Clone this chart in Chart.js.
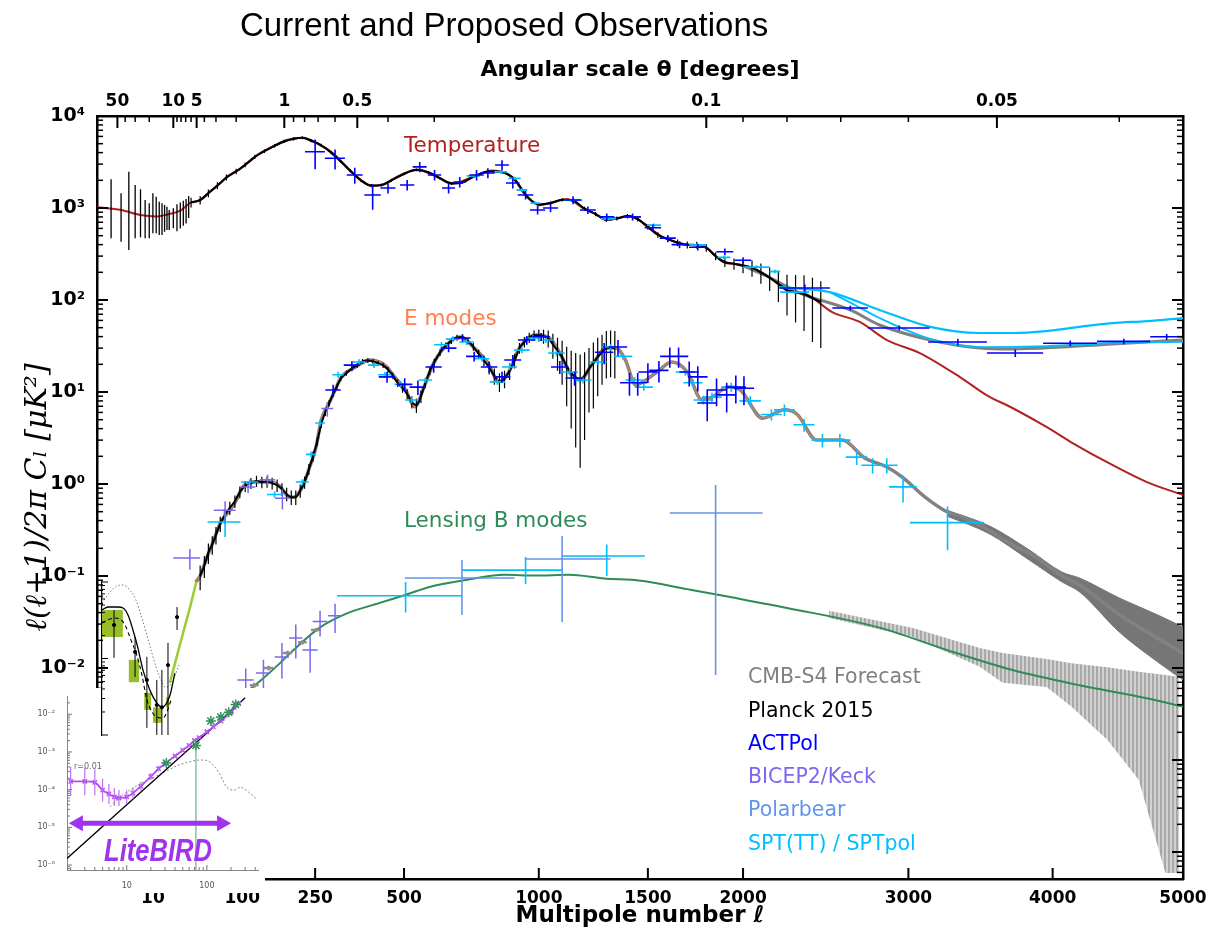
<!DOCTYPE html>
<html>
<head>
<meta charset="utf-8">
<script src="https://cdn.jsdelivr.net/npm/chart.js@4.4.0/dist/chart.umd.min.js"></script>
<style>
  body { margin: 0; width: 1230px; height: 934px; overflow: hidden; position: relative; background: #fff; font-family: "DejaVu Sans", sans-serif; }
  canvas { position: absolute; }
  #main { left: 0; top: 0; }
  #liteBird { left: 0; top: 688px; background: #fff; }
  #lowEE { left: 95px; top: 575px; }
  .txt { position: absolute; white-space: nowrap; line-height: 1; }
  .lab { font-size: 21.5px; left: 404px; }
  .leg { font-size: 20.5px; left: 748px; }
</style>
</head>
<body>
<canvas id="main" width="1230" height="934"></canvas>
<canvas id="liteBird" width="265" height="205"></canvas>
<canvas id="lowEE" width="95" height="165"></canvas>

<div class="txt" style="left:240px;top:6px;font:33px 'Liberation Sans',sans-serif;">Current and Proposed Observations</div>
<div class="txt lab" style="top:134px;color:#b22222;">Temperature</div>
<div class="txt lab" style="top:307px;color:#ff7f50;">E modes</div>
<div class="txt lab" style="top:509px;color:#2e8b57;">Lensing B modes</div>

<div class="txt leg" style="top:666px;color:#808080;">CMB-S4 Forecast</div>
<div class="txt leg" style="top:700px;color:#000;">Planck 2015</div>
<div class="txt leg" style="top:733px;color:#0000ff;">ACTPol</div>
<div class="txt leg" style="top:766px;color:#7b68ee;">BICEP2/Keck</div>
<div class="txt leg" style="top:799px;color:#6495ed;">Polarbear</div>
<div class="txt leg" style="top:833px;color:#00bfff;">SPT(TT) / SPTpol</div>

<div class="txt" style="left:74px;top:763px;font-size:8px;color:#666;">r=0.01</div>
<div class="txt" style="left:104px;top:832px;font:italic bold 32px 'Liberation Sans',sans-serif;color:#a033ee;transform:scaleX(0.8);transform-origin:left top;">LiteBIRD</div>

<script>
// ---------------- data ----------------

// TT theory
const ttEll = [2, 4, 7, 11, 16, 22, 29, 40, 52, 66, 80, 96, 113, 131, 151, 186, 221, 260, 294, 348, 400, 434, 480, 542, 600, 665, 740, 815, 893, 950, 1004, 1060, 1121, 1193, 1250, 1302, 1360, 1410, 1480, 1573, 1650, 1713, 1781, 1890, 1970, 2055, 2150, 2247, 2365, 2519, 2689, 2861, 3075, 3342, 3527, 3710, 3955, 4147, 4447, 4714, 5000];
const ttVal = [1020, 950, 840, 810, 860, 935, 1130, 1220, 1500, 1870, 2290, 2650, 3230, 3935, 4490, 5480, 5800, 4900, 3950, 2400, 1750, 1780, 2200, 2600, 2250, 1850, 2200, 2560, 2120, 1320, 1080, 1150, 1250, 1000, 860, 741, 780, 818, 680, 484, 420, 396, 388, 259, 245, 223, 175, 128, 115, 74, 57.7, 36.7, 26.5, 14.6, 9.27, 6.7, 4.17, 2.79, 1.61, 1.05, 0.76];

// EE theory
const eeEll = [35, 40, 47, 57, 66, 80, 90, 101, 120, 150, 172, 187, 200, 220, 237, 252, 265, 285, 300, 315, 355, 396, 440, 470, 505, 535, 565, 598, 650, 690, 740, 795, 838, 875, 922, 990, 1045, 1090, 1135, 1178, 1238, 1300, 1345, 1390, 1440, 1545, 1620, 1700, 1777, 1830, 1920, 1985, 2110, 2235, 2310, 2425, 2580, 2720, 2860, 2960, 3110, 3255, 3360, 3520, 3730, 3850, 4070, 4200, 4500, 4800, 5000];
const eeVal = [0.086, 0.1, 0.15, 0.246, 0.377, 0.52, 0.66, 0.93, 1.05, 1.05, 0.93, 0.74, 0.72, 0.93, 1.53, 2.5, 4.97, 7.6, 10.5, 14.2, 18.7, 22.3, 19.6, 14.6, 10.5, 6.9, 11.3, 20.6, 34.1, 39.7, 30.8, 20.6, 12.9, 16.1, 30.8, 41.7, 38.6, 26.5, 16.1, 13.5, 20.6, 30, 30, 22.3, 12, 16.5, 21.2, 16.5, 8.2, 8.8, 11.3, 10.5, 5.2, 6.4, 5.7, 3.0, 3.0, 1.92, 1.53, 1.19, 0.72, 0.5, 0.44, 0.33, 0.21, 0.17, 0.1, 0.08, 0.038, 0.021, 0.0145];
const eeLowEll = [16.3, 21.7, 29, 35.6];
const eeLowVal = [0.0069, 0.0178, 0.045, 0.086];

// lensing BB theory
const bbEll = [100, 135, 171, 200, 262, 330, 425, 508, 590, 698, 860, 985, 1130, 1290, 1465, 1700, 1930, 2250, 2814, 3255, 3710, 4198, 4714, 5000];
const bbVal = [0.005, 0.0075, 0.0113, 0.0157, 0.0276, 0.039, 0.051, 0.063, 0.077, 0.089, 0.103, 0.101, 0.103, 0.094, 0.089, 0.072, 0.059, 0.045, 0.0275, 0.0157, 0.0095, 0.0065, 0.0047, 0.0038];

// CMB-S4 forecasts
const s4TTEll = [2000, 2150, 2325, 2630, 2814, 3145, 3480, 3710, 4070, 4447, 5000];
const s4TTVal = [235, 175, 119, 78, 53.5, 36.7, 30, 29.3, 30.8, 33.3, 36.7];
const s4EEBandEll = [3255, 3550, 3830, 4070, 4200, 4500, 4800, 5000];
const s4EEBandHi = [0.52, 0.349, 0.192, 0.11, 0.095, 0.0577, 0.0377, 0.0279];
const s4EEBandLo = [0.449, 0.286, 0.149, 0.086, 0.067, 0.0246, 0.0116, 0.0074];
const s4BBBandEll = [2500, 3030, 3480, 3640, 3955, 4140, 4410, 4650, 4860, 4970];
const s4BBBandHi = [0.042, 0.0272, 0.0165, 0.0146, 0.0125, 0.0113, 0.0102, 0.0091, 0.0084, 0.008];
const s4BBBandLo = [0.035, 0.0217, 0.0103, 0.0069, 0.0062, 0.0038, 0.00165, 0.00061, 0.000059, 0.000059];
const s4BBLowEll = [121, 148, 187, 220, 252];
const s4BBLowVal = [0.0065, 0.01, 0.0146, 0.019, 0.0259];
const s4BBLowErr = [0.0004, 0.0006, 0.0008, 0.001, 0.0013];
const s4BBLowHalf = [8, 9, 10, 10, 12];

// Planck 2015: [l, D, lo, hi] at low l, [l, D, sigma] binned
const planckLowTT = [[3, 980, 469, 2050], [4, 800, 431, 1446], [5, 940, 349, 2483], [6, 900, 469, 1778], [7, 780, 480, 1600], [8, 720, 469, 1222], [9, 700, 469, 1125], [10, 800, 531, 1446], [11, 760, 531, 1327], [12, 760, 509, 1170], [13, 740, 509, 1125], [14, 780, 552, 1079], [15, 800, 577, 1033], [16, 780, 577, 951], [18, 800, 601, 993], [20, 830, 560, 1100], [22, 880, 600, 1150], [24, 900, 640, 1200], [26, 950, 680, 1250], [28, 1050, 780, 1350]];
const planckTT = [[30, 1150, 140], [40, 1220, 130], [50, 1450, 140], [62, 1750, 150], [75, 2150, 160], [90, 2500, 170], [105, 2950, 180], [122, 3600, 190], [140, 4150, 200], [160, 4750, 210], [180, 5300, 220], [200, 5650, 220], [220, 5800, 220], [240, 5400, 200], [265, 4800, 180], [290, 4000, 150], [315, 3200, 120], [340, 2550, 100], [370, 2000, 80], [400, 1750, 70], [430, 1780, 70], [460, 2000, 75], [500, 2350, 80], [540, 2600, 85], [580, 2450, 80], [620, 2100, 75], [660, 1850, 70], [700, 1900, 70], [750, 2250, 80], [800, 2500, 85], [850, 2450, 85], [900, 2050, 75], [950, 1350, 55], [1000, 1090, 45], [1050, 1130, 45], [1100, 1230, 50], [1150, 1200, 50], [1200, 980, 50], [1250, 860, 45], [1300, 745, 40], [1350, 770, 40], [1400, 815, 45], [1450, 760, 45], [1500, 620, 40], [1550, 510, 35], [1600, 460, 35], [1650, 420, 35], [1700, 398, 35], [1750, 395, 35], [1800, 370, 35], [1850, 300, 30], [1900, 258, 30], [1950, 248, 35], [2000, 235, 40], [2050, 224, 45], [2100, 200, 50], [2150, 175, 50], [2200, 150, 55], [2250, 128, 60], [2300, 122, 65], [2350, 116, 70], [2400, 105, 70], [2450, 95, 65]];
const planckEE = [[40, 0.1, 0.03], [45, 0.13, 0.035], [50, 0.18, 0.045], [55, 0.22, 0.05], [60, 0.28, 0.06], [66, 0.37, 0.07], [72, 0.45, 0.08], [80, 0.55, 0.09], [88, 0.65, 0.1], [96, 0.82, 0.12], [105, 0.95, 0.13], [115, 1.02, 0.14], [125, 1.08, 0.15], [135, 1.05, 0.15], [145, 1.06, 0.15], [155, 1.02, 0.15], [165, 0.97, 0.15], [175, 0.88, 0.14], [185, 0.78, 0.13], [195, 0.72, 0.13], [205, 0.72, 0.13], [215, 0.85, 0.14], [225, 1.05, 0.16], [235, 1.45, 0.2], [245, 2.0, 0.25], [255, 2.9, 0.3], [265, 4.5, 0.4], [275, 6.0, 0.5], [285, 7.6, 0.6], [295, 9.5, 0.7], [305, 11.5, 0.8], [315, 14, 0.9], [330, 16, 1], [345, 18, 1.2], [360, 19.5, 1.2], [375, 21.5, 1.3], [390, 22, 1.3], [405, 21.5, 1.3], [420, 20.5, 1.3], [435, 19.5, 1.3], [450, 17.5, 1.3], [465, 15, 1.2], [480, 12.5, 1.2], [495, 11, 1.2], [510, 9.5, 1.2], [525, 7.8, 1.2], [540, 7.2, 1.3], [555, 9, 1.4], [570, 12.5, 1.5], [585, 17, 1.8], [600, 21, 2], [620, 27, 2.3], [640, 32, 2.5], [660, 36, 2.8], [680, 39, 3], [700, 39.5, 3], [720, 36, 3], [740, 31, 3], [760, 26, 3], [780, 22, 3], [800, 18.5, 3], [820, 15, 3], [840, 13, 3], [860, 14, 3], [880, 17, 3.5], [900, 22, 4], [920, 30, 4], [940, 35, 4.5], [960, 39, 5], [980, 41.5, 5], [1000, 41.5, 6], [1020, 40.5, 7], [1040, 38.5, 8], [1060, 33, 10], [1080, 28, 11], [1100, 24, 12], [1120, 19, 12], [1140, 16, 12], [1160, 14.5, 12], [1180, 13.5, 12], [1200, 15, 12], [1220, 18, 12], [1240, 20.6, 14], [1260, 24, 15], [1280, 27, 15], [1300, 30, 16], [1320, 30.5, 16], [1340, 30, 16]];

// ACTPol
const actTTEll = [250, 300, 353, 404, 450, 510, 551, 601, 650, 690, 752, 795, 850, 893, 945, 995, 1050, 1148, 1215, 1302, 1425, 1525, 1600, 1660, 1755, 1900, 2000, 2355, 2630, 2940, 3330, 3730, 4130, 4535, 4870];
const actTTVal = [4090, 3470, 2285, 1385, 1650, 1780, 2800, 2285, 1650, 1920, 2285, 2400, 2930, 1870, 1385, 950, 1000, 1220, 950, 800, 800, 610, 470, 400, 375, 335, 270, 135, 81.8, 49.7, 34.9, 26.5, 33.9, 35.5, 39.8];
const actTTErr = [1450, 850, 450, 430, 210, 230, 360, 300, 210, 250, 300, 300, 380, 240, 150, 100, 100, 120, 90, 70, 70, 50, 40, 35, 30, 28, 22, 12, 5, 3, 3, 2.5, 2.5, 2.5, 3];
const actTTHalf = [24, 26, 22, 24, 23, 23, 23, 23, 23, 23, 27, 27, 27, 27, 32, 32, 32, 36, 36, 36, 41, 41, 41, 41, 46, 46, 46, 150, 110, 200, 200, 200, 200, 205, 130];
const actEEEll = [295, 345, 447, 502, 545, 598, 650, 700, 743, 800, 850, 893, 950, 1010, 1090, 1155, 1290, 1355, 1410, 1450, 1500, 1555, 1610, 1655, 1710, 1755, 1805, 1855, 1910, 1960, 2005];
const actEEVal = [10.5, 19.6, 14.6, 12.1, 11.3, 18.7, 30, 38.6, 24.4, 18.7, 14.6, 22.3, 36.7, 39.8, 18.7, 14.2, 27, 30.8, 12.6, 12.6, 16.5, 17.2, 24.4, 24.4, 16.5, 14.6, 7.6, 10.5, 9.3, 11.3, 11];
const actEEErr = [1.5, 2, 2, 2, 2, 2.5, 3, 3.5, 3, 2.5, 2, 3, 4, 4, 3, 2.5, 7, 6, 3.5, 3.5, 4, 4.5, 6, 6, 5, 4.5, 2.8, 3.5, 3.3, 3.8, 3.8];
const actEEHalf = [20, 22, 25, 25, 27, 28, 28, 30, 30, 32, 33, 34, 36, 37, 38, 40, 43, 44, 45, 46, 47, 48, 49, 50, 51, 52, 53, 54, 55, 56, 57];

// SPT (TT bins, TT high-l with foregrounds, SPTpol EE and BB)
const sptTTEll = [740, 845, 900, 930, 985, 1150, 1310, 1530, 1755, 1895, 2075, 2180, 2295];
const sptTTVal = [2230, 2470, 2100, 1570, 1130, 1220, 760, 653, 396, 290, 228, 204, 122];
const sptTTErr = [90, 100, 85, 65, 45, 50, 30, 26, 16, 12, 10, 9, 6];
const sptTTHalf = [25, 25, 25, 22, 20, 40, 35, 35, 45, 35, 75, 30, 85];
const sptTTHighEll = [2208, 2503, 2814, 3145, 3480, 3710, 3955, 4198, 4447, 4714, 5000];
const sptTTHighVal = [138, 122, 78, 51, 43.8, 43.8, 46, 51, 56, 59, 63.7];
const sptTTLowEll = [2503, 2650, 2814, 3145, 3480, 3955, 4447, 5000];
const sptTTLowVal = [122, 90, 63.7, 37.7, 30.8, 31.6, 34.1, 35];
const sptEEEll = [73, 113, 160, 220, 240, 262, 308, 365, 408, 440, 490, 525, 570, 625, 665, 715, 773, 832, 880, 930, 975, 1030, 1075, 1133, 1193, 1262, 1320, 1380, 1435, 1480, 1690, 1730, 1785, 1830, 1935, 2040, 2160, 2235, 2350, 2460, 2566, 2670, 2770, 2860, 2965, 3260];
const sptEEVal = [0.386, 1.05, 0.77, 1.05, 2.1, 4.6, 15.4, 21.2, 19.6, 15.4, 12.1, 8.2, 13.5, 32.6, 37.6, 35, 23, 12.9, 18.7, 28.5, 38.6, 36.7, 26.5, 16.5, 13.5, 21.2, 30.8, 24.4, 13.5, 11.3, 16.5, 12.6, 8.2, 8.8, 11.3, 8.0, 5.7, 6.4, 4.4, 3.0, 3.0, 1.96, 1.6, 1.6, 0.93, 0.38];
const sptEEErr = [0.12, 0.08, 0.06, 0.08, 0.15, 0.35, 1.2, 1.5, 1.4, 1.1, 0.9, 0.6, 1.0, 2.4, 2.8, 2.6, 1.7, 1.0, 1.4, 2.1, 2.8, 2.7, 2.0, 1.3, 1.1, 1.7, 2.5, 2.0, 1.1, 1.0, 1.5, 1.2, 0.9, 1.0, 1.3, 1.0, 0.8, 0.9, 0.7, 0.5, 0.5, 0.35, 0.3, 0.3, 0.3, 0.19];
const sptEEHalf = [24, 15, 15, 15, 12, 12, 15, 18, 18, 20, 20, 22, 22, 25, 25, 27, 28, 30, 30, 32, 33, 35, 36, 37, 38, 40, 42, 43, 44, 45, 50, 50, 52, 53, 55, 60, 60, 60, 62, 65, 65, 68, 70, 70, 90, 250];
const sptBBEll = [505, 945, 1302];
const sptBBVal = [0.061, 0.116, 0.165];
const sptBBLo = [0.04, 0.082, 0.1];
const sptBBHi = [0.086, 0.161, 0.22];
const sptBBEllLo = [305, 698, 1100];
const sptBBEllHi = [698, 1100, 1485];

// BICEP2/Keck
const bkEEEll = [29, 73, 110, 146, 176, 280];
const bkEEVal = [0.157, 0.52, 0.93, 1.11, 0.70, 6.6];
const bkEEErr = [0.04, 0.13, 0.13, 0.15, 0.17, 1.2];
const bkEEHalf = [11, 16, 13, 15, 15, 15];
const bkBBEll = [106, 138, 175, 205, 238, 262, 300];
const bkBBVal = [0.0074, 0.0088, 0.0132, 0.0212, 0.0157, 0.032, 0.037];
const bkBBErr = [0.0025, 0.0035, 0.0055, 0.0085, 0.0068, 0.01, 0.013];
const bkBBHalf = [14, 14, 15, 15, 18, 18, 18];

// Polarbear
const pbEll = [698, 1100, 1850];
const pbVal = [0.095, 0.153, 0.484];
const pbLo = [0.0377, 0.0316, 0.0084];
const pbHi = [0.149, 0.272, 0.975];
const pbEllLo = [502, 945, 1610];
const pbEllHi = [900, 1320, 2110];

// low-l EE inset (reionization bump)
const reionEll = [2, 2.47, 2.96, 3.54, 4.23, 5.05, 6.03, 7.2, 8.6, 11.0, 14.1, 16.9, 19.6, 22.6, 26.8];
const reionSolid = [0.043, 0.0471, 0.0471, 0.0471, 0.0457, 0.037, 0.0236, 0.0137, 0.0071, 0.00387, 0.00262, 0.00232, 0.00254, 0.00333, 0.00646];
const reionDashEll = [2, 2.66, 3.15, 3.8, 4.54, 5.6, 6.9, 8.3, 9.9, 11.9, 14.1, 17.6, 20.2, 23.4];
const reionDashVal = [0.0291, 0.0328, 0.0338, 0.0328, 0.0274, 0.0175, 0.0111, 0.00608, 0.00287, 0.002, 0.00172, 0.00167, 0.002, 0.00287];
const reionDotEll = [2, 2.66, 3.41, 4.22, 5.4, 6.7, 8.0, 9.6, 11.5, 13.7, 16.4, 18.9, 21.8, 26.0, 31.1];
const reionDotVal = [0.053, 0.074, 0.0887, 0.0914, 0.0786, 0.0582, 0.0371, 0.0222, 0.0129, 0.00774, 0.00523, 0.00424, 0.00436, 0.00556, 0.00822];
const reionBoxEllLo = [2, 5.2, 9.0, 12.3, 19.6];
const reionBoxEllHi = [4.2, 7.5, 11.5, 16.9, 21.7];
const reionBoxLo = [0.0191, 0.0049, 0.00213, 0.00144, 0.0023];
const reionBoxHi = [0.043, 0.0096, 0.00355, 0.0023, 0.0031];
const reionPtEll = [3.07, 6.5, 9.9, 14.1, 16.9, 21, 29];
const reionPtVal = [0.0274, 0.0122, 0.00523, 0.00247, 0.0023, 0.0082, 0.0348];
const reionPtLo = [0.0102, 0.00573, 0.00124, 0.001, 0.001, 0.001, 0.0236];
const reionPtHi = [0.043, 0.0191, 0.0105, 0.00523, 0.0071, 0.016, 0.047];

// LiteBIRD inset (BB)
const lbEll = [2, 3, 4, 5, 6, 7, 8, 10, 12, 15, 20, 25, 30, 40, 50, 60, 70, 80, 100, 120, 150, 200, 250];
const lbVal = [1.66e-4, 1.66e-4, 1.56e-4, 9.7e-5, 7.7e-5, 6.4e-5, 6.0e-5, 6.4e-5, 8.1e-5, 1.23e-4, 2.23e-4, 3.59e-4, 4.83e-4, 7.8e-4, 1.11e-3, 1.49e-3, 2.01e-3, 2.4e-3, 3.43e-3, 4.62e-3, 6.6e-3, 1.13e-2, 1.92e-2];
const lbErrDex = [0.39, 0.37, 0.35, 0.3, 0.27, 0.24, 0.21, 0.18, 0.15, 0.12, 0.09, 0.07, 0.05, 0.04, 0.03, 0.03, 0.03, 0.03, 0.02, 0.02, 0.02, 0.02, 0.02];
const lensEll = [1.8, 10, 100, 300];
const lensVal = [1.5e-6, 4.0e-5, 3.2e-3, 0.0275];
const primEll = [6.17, 8.2, 10.9, 14.5, 19.2, 25.5, 33.9, 45.1, 60, 79.5, 91.8, 112, 141, 177, 217, 263, 330, 415];
const primVal = [3.53e-5, 6.4e-5, 9.7e-5, 1.39e-4, 1.87e-4, 2.51e-4, 3.38e-4, 4.55e-4, 5.43e-4, 6.1e-4, 6.1e-4, 5.13e-4, 2.83e-4, 1.16e-4, 9.7e-5, 1.16e-4, 8.6e-5, 5.7e-5];
const starEll = [31.2, 73, 112, 149, 187, 228];
const starVal = [5.1e-4, 1.49e-3, 6.6e-3, 8.4e-3, 1.13e-2, 1.81e-2];
const starLo = [4.0e-4, 7.4e-7, 5.0e-3, 6.5e-3, 8.8e-3, 1.45e-2];
const starHi = [6.4e-4, 1.9e-3, 8.6e-3, 1.1e-2, 1.45e-2, 2.3e-2];
const lbArrowEll = [1.9, 200];
const lbArrowLevel = 1.29e-5;

// axis ticks
const bottomTicks = [10, 100, 250, 500, 1000, 1500, 2000, 3000, 4000, 5000];
const thetaMajor = [50, 10, 5, 1, 0.5, 0.1, 0.05];
const thetaMinor = [40, 30, 20, 9, 8, 7, 6, 4, 3, 2, 0.9, 0.8, 0.7, 0.6, 0.4, 0.3, 0.2, 0.09, 0.08, 0.07, 0.06, 0.04];

// ---------------- scales ----------------

// multipole axis: logarithmic below l = 30, l^0.6 above
const L_BREAK = 30, L_POW = 0.6, LOG_UNITS = 12.74;
const lpos = l => l >= L_BREAK ? Math.pow(l, L_POW) : Math.pow(L_BREAK, L_POW) + LOG_UNITS * Math.log10(l / L_BREAK);
const X_MIN = lpos(2), X_MAX = lpos(5000);
const Y_MIN = 5.09e-5, Y_MAX = 1e4;

const SUP = { '-': '\u207B', '0': '\u2070', '1': '\u00B9', '2': '\u00B2', '3': '\u00B3', '4': '\u2074', '5': '\u2075', '6': '\u2076', '7': '\u2077', '8': '\u2078', '9': '\u2079' };
const powLabel = e => '10' + String(e).split('').map(c => SUP[c]).join('');

function logTicks(min, max, plain) {
  const out = [];
  for (let e = Math.floor(Math.log10(min)); e <= Math.ceil(Math.log10(max)); e++) {
    for (let m = 1; m <= 9; m++) {
      const v = m * Math.pow(10, e);
      if (v < min * 0.999 || v > max * 1.001) continue;
      out.push({ value: v, major: m === 1, txt: m === 1 ? (plain ? String(Math.round(v)) : powLabel(e)) : '' });
    }
  }
  return out;
}

const pts = (ell, val, f) => ell.map((l, i) => ({ x: f ? f(l) : l, y: val[i] }));

// ---------------- plugins ----------------

// inward tick marks, long for labelled ticks
const inTicks = {
  id: 'inTicks',
  afterDraw(chart, args, opts) {
    const { ctx, chartArea: a } = chart;
    const axes = opts.axes || {};
    Object.keys(axes).forEach(id => {
      const s = chart.scales[id], o = axes[id];
      if (!s) return;
      ctx.save();
      ctx.strokeStyle = o.color || '#000';
      s.ticks.forEach(t => {
        const len = t.major ? o.major : o.minor;
        if (!len) return;
        const p = s.getPixelForValue(t.value);
        ctx.lineWidth = t.major ? o.width : (o.minorWidth || o.width);
        ctx.beginPath();
        if (s.position === 'left') { ctx.moveTo(a.left, p); ctx.lineTo(a.left + len, p); }
        else if (s.position === 'right') { ctx.moveTo(a.right, p); ctx.lineTo(a.right - len, p); }
        else if (s.position === 'top') { ctx.moveTo(p, a.top); ctx.lineTo(p, a.top + len); }
        else { ctx.moveTo(p, a.bottom); ctx.lineTo(p, a.bottom - len); }
        ctx.stroke();
      });
      ctx.restore();
    });
  }
};

// error bars / bin widths drawn right after their dataset
const crossBars = {
  id: 'crossBars',
  afterDatasetDraw(chart, args) {
    const ds = chart.data.datasets[args.index];
    const b = ds.bars;
    if (!b) return;
    const { ctx, chartArea: a } = chart;
    const xs = chart.scales.x, ys = chart.scales.y;
    ctx.save();
    ctx.beginPath();
    ctx.rect(a.left, a.top, a.right - a.left, a.bottom - a.top);
    ctx.clip();
    ctx.strokeStyle = b.color;
    ctx.lineWidth = b.width;
    ctx.beginPath();
    ds.data.forEach((p, i) => {
      const px = xs.getPixelForValue(p.x), py = ys.getPixelForValue(p.y);
      if (b.ylo) { ctx.moveTo(px, ys.getPixelForValue(b.ylo[i])); ctx.lineTo(px, ys.getPixelForValue(b.yhi[i])); }
      if (b.xlo) { ctx.moveTo(xs.getPixelForValue(b.xlo[i]), py); ctx.lineTo(xs.getPixelForValue(b.xhi[i]), py); }
    });
    ctx.stroke();
    ctx.restore();
  }
};

// ---------------- main chart ----------------

function line(label, ell, val, color, width, order, extra) {
  return Object.assign({
    label, order, data: pts(ell, val, lpos), borderColor: color, backgroundColor: color,
    borderWidth: width, pointRadius: 0, cubicInterpolationMode: 'monotone', fill: false
  }, extra || {});
}

function crossSet(label, ell, val, err, half, color, order, width) {
  const bars = {
    color, width: width || 1.6,
    ylo: val.map((v, i) => Math.max(v - err[i], v * 0.08)),
    yhi: val.map((v, i) => v + err[i])
  };
  if (half) {
    bars.xlo = ell.map((l, i) => lpos(l - half[i]));
    bars.xhi = ell.map((l, i) => lpos(l + half[i]));
  }
  return { label, order, data: pts(ell, val, lpos), showLine: false, pointRadius: 0, borderColor: color, bars };
}

function rangeSet(label, ell, val, lo, hi, ellLo, ellHi, color, order) {
  return {
    label, order, data: pts(ell, val, lpos), showLine: false, pointRadius: 0, borderColor: color,
    bars: { color, width: 1.6, ylo: lo, yhi: hi, xlo: ellLo.map(lpos), xhi: ellHi.map(lpos) }
  };
}

const mainCanvas = document.getElementById('main');
const mainCtx = mainCanvas.getContext('2d');

// striped fill for the binned lensing-B forecast
const stripe = document.createElement('canvas');
stripe.width = 4; stripe.height = 4;
const sctx = stripe.getContext('2d');
sctx.fillStyle = '#d2d2d2'; sctx.fillRect(0, 0, 4, 4);
sctx.fillStyle = '#a8a8a8'; sctx.fillRect(0, 0, 2, 4);
const stripePattern = mainCtx.createPattern(stripe, 'repeat');

Chart.defaults.font.family = "'DejaVu Sans', sans-serif";
Chart.defaults.color = '#000';

const planckLowEll = planckLowTT.map(r => r[0]);
const planckLowDs = {
  label: 'Planck low-l TT', order: 79, data: pts(planckLowEll, planckLowTT.map(r => r[1]), lpos),
  showLine: false, pointRadius: 0, borderColor: '#000',
  bars: { color: '#000', width: 1.3, ylo: planckLowTT.map(r => r[2]), yhi: planckLowTT.map(r => r[3]) }
};
const planckTTDs = Object.assign(
  crossSet('Planck TT', planckTT.map(r => r[0]), planckTT.map(r => r[1]), planckTT.map(r => r[2]), null, '#000', 78, 1.2),
  { showLine: true, borderWidth: 2.2, cubicInterpolationMode: 'monotone' });
const planckEEDs = Object.assign(
  crossSet('Planck EE', planckEE.map(r => r[0]), planckEE.map(r => r[1]), planckEE.map(r => r[2]), null, '#000', 77, 1.2),
  { showLine: true, borderWidth: 2, cubicInterpolationMode: 'monotone' });

const datasets = [
  line('S4 BB lo', s4BBBandEll, s4BBBandLo, 'rgba(0,0,0,0)', 0, 100, { cubicInterpolationMode: 'default', tension: 0 }),
  line('S4 BB hi', s4BBBandEll, s4BBBandHi, 'rgba(0,0,0,0)', 0, 100, { cubicInterpolationMode: 'default', tension: 0, fill: '-1', backgroundColor: stripePattern }),
  line('S4 EE lo', s4EEBandEll, s4EEBandLo, '#767676', 1, 95),
  line('S4 EE hi', s4EEBandEll, s4EEBandHi, '#767676', 1, 95, { fill: '-1', backgroundColor: '#767676' }),
  line('TT', ttEll, ttVal, '#b22222', 2, 90),
  line('EE forecast', eeEll, eeVal, '#828282', 3.5, 85),
  line('EE', eeEll.slice(0, 58), eeVal.slice(0, 58), '#e8875a', 1, 84),
  line('Lensing BB', bbEll, bbVal, '#2e8b57', 2, 83),
  line('S4 TT', s4TTEll, s4TTVal, '#808080', 3, 82),
  line('EE low', eeLowEll, eeLowVal, '#9acd32', 2.5, 81, { cubicInterpolationMode: 'default', tension: 0 }),
  crossSet('S4 BB bins', s4BBLowEll, s4BBLowVal, s4BBLowErr, s4BBLowHalf, '#8c8c8c', 80, 2.5),
  planckLowDs,
  planckTTDs,
  planckEEDs,
  crossSet('SPT TT bins', sptTTEll, sptTTVal, sptTTErr, sptTTHalf, '#00bfff', 70, 1.8),
  line('SPT TT high', sptTTHighEll, sptTTHighVal, '#00bfff', 2.2, 69),
  line('SPT TT low', sptTTLowEll, sptTTLowVal, '#00bfff', 1.8, 68),
  crossSet('SPTpol EE', sptEEEll, sptEEVal, sptEEErr, sptEEHalf, '#00bfff', 60, 1.6),
  crossSet('ACTPol TT', actTTEll, actTTVal, actTTErr, actTTHalf, '#0000ff', 55, 1.6),
  crossSet('ACTPol EE', actEEEll, actEEVal, actEEErr, actEEHalf, '#0000ff', 54, 1.6),
  crossSet('BICEP2/Keck EE', bkEEEll, bkEEVal, bkEEErr, bkEEHalf, '#7b68ee', 50, 1.5),
  crossSet('BICEP2/Keck BB', bkBBEll, bkBBVal, bkBBErr, bkBBHalf, '#7b68ee', 50, 1.5),
  rangeSet('SPTpol BB', sptBBEll, sptBBVal, sptBBLo, sptBBHi, sptBBEllLo, sptBBEllHi, '#00bfff', 45),
  rangeSet('Polarbear BB', pbEll, pbVal, pbLo, pbHi, pbEllLo, pbEllHi, '#6495ed', 44)
];

const bottomTickObjs = () => bottomTicks.map(l => ({ value: lpos(l), major: true, txt: String(l) }));
const topTickObjs = () => thetaMajor.map(t => ({ value: lpos(180 / t), major: true, txt: String(t) }))
  .concat(thetaMinor.map(t => ({ value: lpos(180 / t), major: false, txt: '' })))
  .sort((p, q) => p.value - q.value);

new Chart(mainCanvas, {
  type: 'line',
  data: { datasets },
  options: {
    responsive: false, animation: false, events: [],
    layout: { padding: { left: 20, top: 40, right: 0, bottom: 0 } },
    plugins: {
      legend: { display: false }, tooltip: { enabled: false },
      inTicks: {
        axes: {
          x: { major: 11, minor: 0, width: 2 },
          x2: { major: 12, minor: 6, width: 2, minorWidth: 1.5 },
          y: { major: 11, minor: 6, width: 2, minorWidth: 1.5 },
          y2: { major: 11, minor: 6, width: 2, minorWidth: 1.5 }
        }
      }
    },
    scales: {
      x: {
        type: 'linear', position: 'bottom', min: X_MIN, max: X_MAX,
        afterBuildTicks: s => { s.ticks = bottomTickObjs(); },
        afterFit: s => { s.height = 55; },
        grid: { display: false }, border: { display: true, color: '#000', width: 2.5 },
        ticks: { autoSkip: false, maxRotation: 0, padding: 1, font: { size: 17, weight: 'bold' }, callback: (v, i, t) => t[i].txt },
        title: { display: true, text: 'Multipole number \u2113', font: { size: 23, weight: 'bold' }, padding: { top: 0, bottom: 4 } }
      },
      x2: {
        type: 'linear', position: 'top', min: X_MIN, max: X_MAX,
        afterBuildTicks: s => { s.ticks = topTickObjs(); },
        afterFit: s => { s.height = 76; },
        grid: { display: false }, border: { display: true, color: '#000', width: 2.5 },
        ticks: { autoSkip: false, maxRotation: 0, padding: -4, font: { size: 17, weight: 'bold' }, callback: (v, i, t) => t[i].txt },
        title: { display: true, text: 'Angular scale \u03B8 [degrees]', font: { size: 22, weight: 'bold' }, padding: { top: 17, bottom: 0 } }
      },
      y: {
        type: 'logarithmic', position: 'left', min: Y_MIN, max: Y_MAX,
        afterBuildTicks: s => { s.ticks = logTicks(Y_MIN, Y_MAX); },
        afterFit: s => { s.width = 77; },
        grid: { display: false }, border: { display: true, color: '#000', width: 2.5 },
        ticks: { autoSkip: false, padding: 4, font: { size: 19, weight: 'bold' }, callback: (v, i, t) => t[i].txt },
        title: { display: true, text: '\u2113(\u2113+1)/2\u03C0 C\u2097 [\u03BCK\u00B2]', font: { size: 30, family: "'DejaVu Serif', serif", style: 'italic' }, padding: { top: 0, bottom: 0 } }
      },
      y2: {
        type: 'logarithmic', position: 'right', min: Y_MIN, max: Y_MAX,
        afterBuildTicks: s => { s.ticks = logTicks(Y_MIN, Y_MAX); },
        afterFit: s => { s.width = 47; },
        grid: { display: false }, border: { display: true, color: '#000', width: 2.5 },
        ticks: { display: false }
      }
    }
  },
  plugins: [inTicks, crossBars]
});

// ---------------- LiteBIRD inset ----------------

const lbArrow = {
  id: 'lbArrow',
  afterDatasetsDraw(chart) {
    const { ctx } = chart;
    const y = chart.scales.y.getPixelForValue(lbArrowLevel);
    const x0 = chart.scales.x.getPixelForValue(lbArrowEll[0]);
    const x1 = chart.scales.x.getPixelForValue(lbArrowEll[1]);
    ctx.save();
    ctx.strokeStyle = ctx.fillStyle = '#a033ee';
    ctx.lineWidth = 5;
    ctx.beginPath(); ctx.moveTo(x0 + 10, y); ctx.lineTo(x1 - 10, y); ctx.stroke();
    ctx.beginPath(); ctx.moveTo(x0, y); ctx.lineTo(x0 + 14, y - 8); ctx.lineTo(x0 + 14, y + 8); ctx.closePath(); ctx.fill();
    ctx.beginPath(); ctx.moveTo(x1, y); ctx.lineTo(x1 - 14, y - 8); ctx.lineTo(x1 - 14, y + 8); ctx.closePath(); ctx.fill();
    ctx.restore();
  }
};

const LB_XMIN = 1.8, LB_XMAX = 440, LB_YMIN = 7.4e-7, LB_YMAX = 0.029;

new Chart(document.getElementById('liteBird'), {
  type: 'line',
  data: {
    datasets: [
      { label: 'r=0.01', order: 5, data: pts(primEll, primVal), borderColor: '#8a8a8a', borderWidth: 1, borderDash: [2, 2], pointRadius: 0, cubicInterpolationMode: 'monotone' },
      { label: 'lensing', order: 4, data: pts(lensEll, lensVal), borderColor: '#000', borderWidth: 1.3, pointRadius: 0, tension: 0 },
      {
        label: 'LiteBIRD', order: 3, data: pts(lbEll, lbVal), borderColor: '#b44cf0', backgroundColor: '#b44cf0', borderWidth: 1.8,
        pointStyle: 'crossRot', pointRadius: 3, pointBorderWidth: 1.5, cubicInterpolationMode: 'monotone',
        bars: { color: '#c070f0', width: 1.2, ylo: lbVal.map((v, i) => v / Math.pow(10, lbErrDex[i])), yhi: lbVal.map((v, i) => v * Math.pow(10, lbErrDex[i])) }
      },
      {
        label: 'stars', order: 2, data: pts(starEll, starVal), showLine: false, borderColor: '#2e8b57', backgroundColor: '#2e8b57',
        pointStyle: 'star', pointRadius: 5, pointBorderWidth: 1.5,
        bars: { color: '#4aa37a', width: 1, ylo: starLo, yhi: starHi }
      }
    ]
  },
  options: {
    responsive: false, animation: false, events: [],
    layout: { padding: { top: 4, right: 5, left: 0, bottom: 0 } },
    plugins: {
      legend: { display: false }, tooltip: { enabled: false },
      inTicks: { axes: { x: { major: 5, minor: 3, width: 1, color: '#777' }, y: { major: 5, minor: 3, width: 1, color: '#777' } } }
    },
    scales: {
      x: {
        type: 'logarithmic', min: LB_XMIN, max: LB_XMAX,
        afterBuildTicks: s => { s.ticks = logTicks(LB_XMIN, LB_XMAX, true); },
        afterFit: s => { s.height = 23; },
        grid: { display: false }, border: { display: true, color: '#888', width: 1 },
        ticks: { autoSkip: false, maxRotation: 0, padding: 3, color: '#555', font: { size: 8 }, callback: (v, i, t) => t[i].txt }
      },
      y: {
        type: 'logarithmic', min: LB_YMIN, max: LB_YMAX,
        afterBuildTicks: s => { s.ticks = logTicks(LB_YMIN, LB_YMAX); },
        afterFit: s => { s.width = 67; },
        grid: { display: false }, border: { display: true, color: '#888', width: 1 },
        ticks: { autoSkip: false, padding: 4, color: '#555', font: { size: 8 }, callback: (v, i, t) => t[i].txt }
      }
    }
  },
  plugins: [inTicks, crossBars, lbArrow]
});

// ---------------- low-l EE inset ----------------

const reionBoxes = {
  id: 'reionBoxes',
  beforeDatasetsDraw(chart) {
    const { ctx } = chart, xs = chart.scales.x, ys = chart.scales.y;
    ctx.save();
    ctx.fillStyle = 'rgba(140,182,20,0.9)';
    reionBoxEllLo.forEach((l, i) => {
      const x0 = xs.getPixelForValue(l), x1 = xs.getPixelForValue(reionBoxEllHi[i]);
      const y0 = ys.getPixelForValue(reionBoxHi[i]), y1 = ys.getPixelForValue(reionBoxLo[i]);
      ctx.fillRect(x0, y0, x1 - x0, y1 - y0);
    });
    ctx.restore();
  }
};

new Chart(document.getElementById('lowEE'), {
  type: 'line',
  data: {
    datasets: [
      { label: 'dotted', order: 4, data: pts(reionDotEll, reionDotVal), borderColor: '#777', borderWidth: 1, borderDash: [1.5, 2], pointRadius: 0, cubicInterpolationMode: 'monotone' },
      { label: 'dashed', order: 3, data: pts(reionDashEll, reionDashVal), borderColor: '#000', borderWidth: 1.1, borderDash: [4, 3], pointRadius: 0, cubicInterpolationMode: 'monotone' },
      { label: 'solid', order: 2, data: pts(reionEll, reionSolid), borderColor: '#000', borderWidth: 1.3, pointRadius: 0, cubicInterpolationMode: 'monotone' },
      {
        label: 'points', order: 1, data: pts(reionPtEll, reionPtVal), showLine: false, borderColor: '#000', backgroundColor: '#000',
        pointRadius: 1.6, bars: { color: '#000', width: 1, ylo: reionPtLo, yhi: reionPtHi }
      }
    ]
  },
  options: {
    responsive: false, animation: false, events: [],
    layout: { padding: { top: 7, right: 8, left: 0, bottom: 5 } },
    plugins: {
      legend: { display: false }, tooltip: { enabled: false },
      inTicks: { axes: { y: { major: 6, minor: 3, width: 1 } } }
    },
    scales: {
      x: { type: 'logarithmic', display: false, min: 2, max: 34.6 },
      y: {
        type: 'logarithmic', min: 1e-3, max: 0.1,
        afterBuildTicks: s => { s.ticks = logTicks(1e-3, 0.1); },
        afterFit: s => { s.width = 7; },
        grid: { display: false }, border: { display: true, color: '#000', width: 1.2 },
        ticks: { display: false }
      }
    }
  },
  plugins: [inTicks, crossBars, reionBoxes]
});
</script>
</body>
</html>
